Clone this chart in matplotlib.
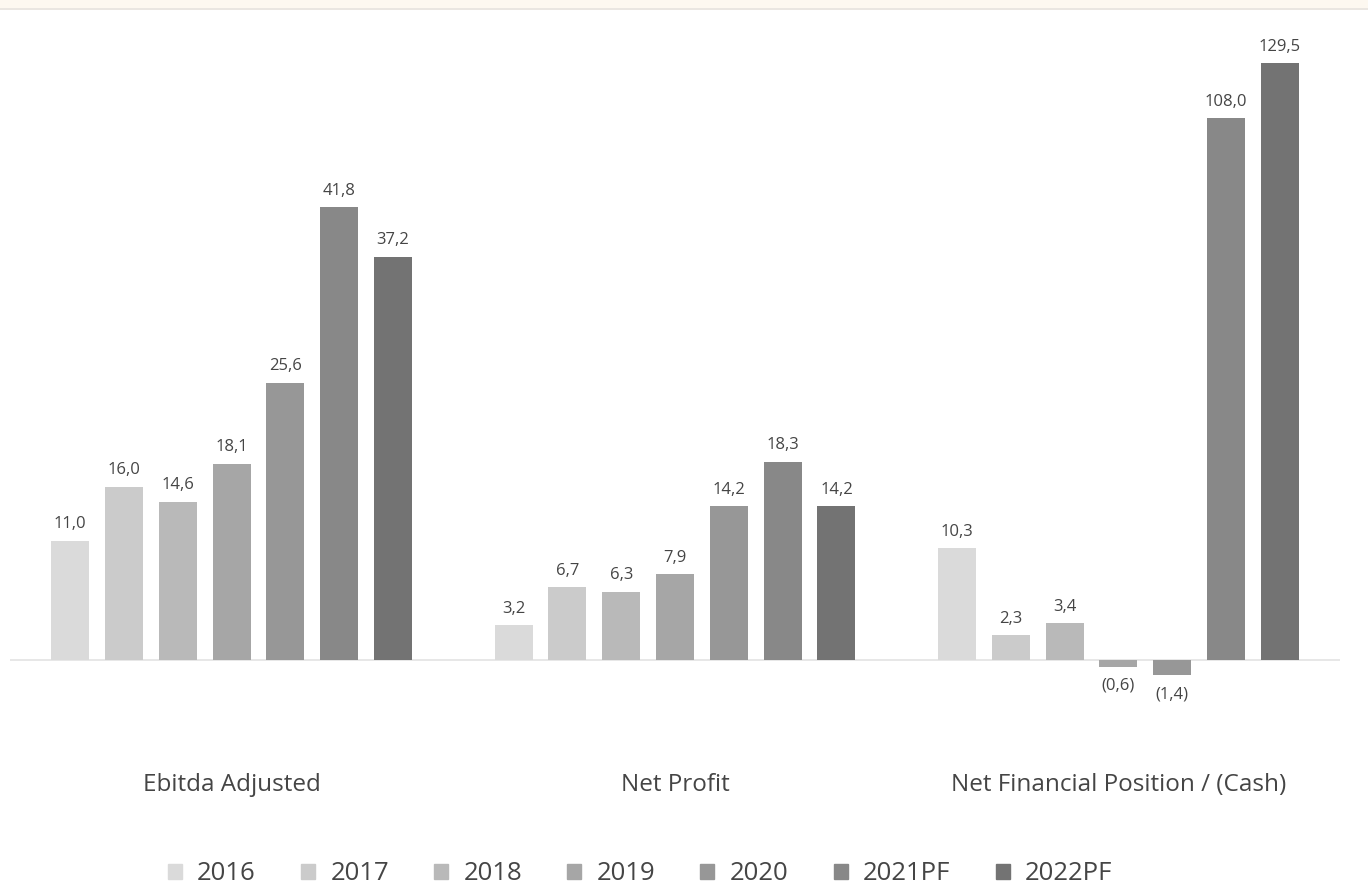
import numpy as np
import matplotlib
matplotlib.use("Agg")
import matplotlib.pyplot as plt
from matplotlib.patches import Rectangle
from matplotlib.lines import Line2D

plt.rcParams['font.family'] = ['Open Sans', 'DejaVu Sans']

categories = ["Ebitda Adjusted", "Net Profit", "Net Financial Position / (Cash)"]
years = ["2016", "2017", "2018", "2019", "2020", "2021PF", "2022PF"]
values = {
    "2016":   [11.0, 3.2, 10.3],
    "2017":   [16.0, 6.7, 2.3],
    "2018":   [14.6, 6.3, 3.4],
    "2019":   [18.1, 7.9, -0.6],
    "2020":   [25.6, 14.2, -1.4],
    "2021PF": [41.8, 18.3, 108.0],
    "2022PF": [37.2, 14.2, 129.5],
}
colors = ["#dadada", "#cbcbcb", "#b9b9b9", "#a6a6a6", "#979797", "#888888", "#737373"]

# compressed (broken) value axis, as in the original: linear up to 45, squeezed above
knots_v = np.array([-100.0, 0.0, 45.0, 108.0, 129.5, 150.0])
knots_t = np.array([-100.0, 0.0, 45.0, 50.0, 55.07, 58.12])
def fwd(v):
    return np.interp(v, knots_v, knots_t)
def inv(t):
    return np.interp(t, knots_t, knots_v)

W, H = 1368, 893
fig = plt.figure(figsize=(W / 100, H / 100), dpi=100)
ax = fig.add_axes([10 / W, (H - 720) / H, 1330 / W, 690 / H])
ax.set_yscale('function', functions=(fwd, inv))

x = np.arange(len(categories))
step = 53.8 / 443.3
bw = 38 / 443.3
text_color = "#454545"

def fmt(v):
    s = f"{abs(v):.1f}".replace(".", ",")
    return f"({s})" if v < 0 else s

for i, (yr, col) in enumerate(zip(years, colors)):
    xs = x + (i - 3) * step
    vals = values[yr]
    ax.bar(xs, vals, width=bw, color=col, zorder=3)
    for xx, v in zip(xs, vals):
        if v >= 0:
            ax.annotate(fmt(v), (xx, v), xytext=(0, 6), textcoords='offset points',
                        ha='center', va='bottom', fontsize=12, color=text_color)
        else:
            ax.annotate(fmt(v), (xx, v), xytext=(0, -8), textcoords='offset points',
                        ha='center', va='top', fontsize=12, color=text_color)

ax.axhline(0, color="#e3e3e3", lw=1.2, zorder=2)
ax.set_xlim(-0.5, 2.5)
ax.set_ylim(-5.535, 150)
ax.set_xticks(x)
ax.set_xticklabels(categories, fontsize=17.5, color=text_color)
ax.tick_params(axis='x', length=0, pad=38)
ax.set_yticks([])
for s in ax.spines.values():
    s.set_visible(False)

handles = [Rectangle((0, 0), 1, 1, color=c) for c in colors]
fig.legend(handles, years, loc='center', bbox_to_anchor=(640 / W, 1 - 874 / H), ncol=7,
           frameon=False, fontsize=18.5, handlelength=0.55, handleheight=0.55,
           handletextpad=0.6, columnspacing=1.75, labelcolor=text_color)

# top beige strip
fig.patches.append(Rectangle((0, 1 - 8 / H), 1, 8 / H, transform=fig.transFigure,
                             facecolor="#fdf8f0", edgecolor='none', zorder=0))
fig.lines.append(Line2D([0, 1], [1 - 8.5 / H, 1 - 8.5 / H], transform=fig.transFigure,
                        color="#e6e2dc", lw=1.2))

fig.savefig("out.png", dpi=100, facecolor="white")
